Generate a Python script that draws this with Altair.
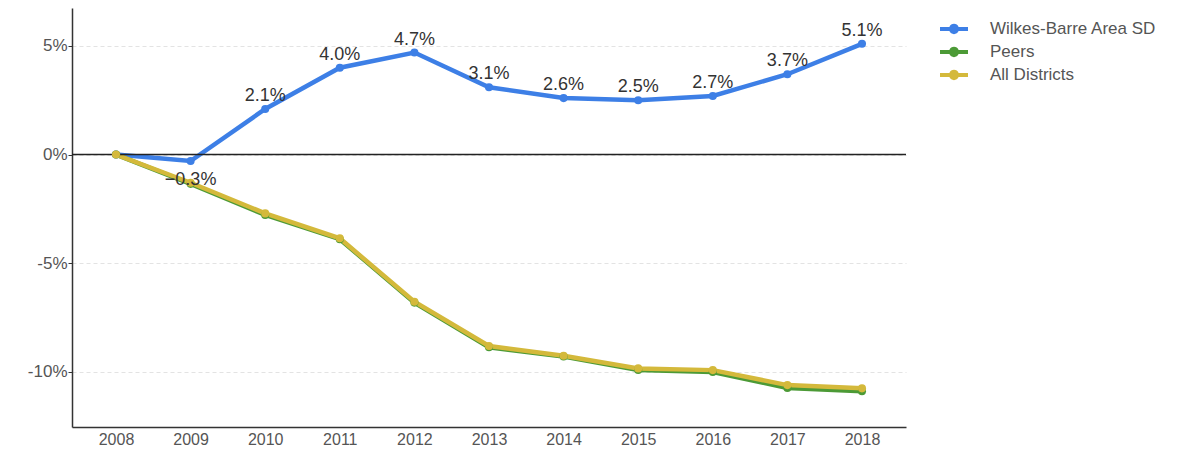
import altair as alt
import pandas as pd

years = ["2008", "2009", "2010", "2011", "2012", "2013", "2014", "2015", "2016", "2017", "2018"]
wilkes = [0.0, -0.3, 2.1, 4.0, 4.7, 3.1, 2.6, 2.5, 2.7, 3.7, 5.1]
peers = [0.0, -1.35, -2.78, -3.9, -6.82, -8.88, -9.3, -9.92, -10.02, -10.75, -10.9]
all_districts = [0.0, -1.3, -2.71, -3.86, -6.78, -8.82, -9.27, -9.85, -9.93, -10.62, -10.77]
series_names = ["Wilkes-Barre Area SD", "Peers", "All Districts"]
series_colors = ["#3d7fe6", "#4c9a36", "#d4b93b"]
y_ticks = [-10, -5, 0, 5]

rows = []
for name, vals in zip(series_names, [wilkes, peers, all_districts]):
    for yr, v in zip(years, vals):
        rows.append({"year": yr, "series": name, "value": v})
df = pd.DataFrame(rows)
zero_df = pd.DataFrame({"v": [0]})

FONT = "Liberation Sans"

x_enc = alt.X(
    "year:O",
    sort=years,
    scale=alt.Scale(type="point", padding=0.59),
    axis=alt.Axis(
        title=None, labelAngle=0, labelFontSize=16, labelFont=FONT, labelColor="#555",
        ticks=False, labelPadding=4, domainColor="#333", domainWidth=1.5, grid=False,
    ),
)
y_enc = alt.Y(
    "value:Q",
    scale=alt.Scale(domain=[-12.55, 6.75], nice=False, zero=False),
    axis=alt.Axis(
        title=None, values=y_ticks, labelExpr="datum.value + '%'", labelFontSize=17,
        labelFont=FONT, labelColor="#555", tickSize=4, tickColor="#333", labelPadding=1,
        domainColor="#333", domainWidth=1.5, grid=True, gridColor="#e3e3e3",
        gridDash=[4, 3], gridWidth=1,
    ),
)

lines = []
for name, color in zip(series_names, series_colors):
    lines.append(
        alt.Chart(df)
        .transform_filter(alt.datum.series == name)
        .mark_line(color=color, strokeWidth=4.5)
        .encode(x=x_enc, y=y_enc)
    )

rule = alt.Chart(zero_df).mark_rule(color="#222", strokeWidth=1.5).encode(y="v:Q")

SYMBOL = ("M-1,-0.15L-0.33,-0.15A0.36,0.36 0 0,1 0.33,-0.15L1,-0.15L1,0.15"
          "L0.33,0.15A0.36,0.36 0 0,1 -0.33,0.15L-1,0.15Z")

points = alt.Chart(df).mark_circle(size=65, opacity=1).encode(
    x=x_enc,
    y=y_enc,
    color=alt.Color(
        "series:N",
        sort=series_names,
        scale=alt.Scale(domain=series_names, range=series_colors),
        legend=alt.Legend(
            title=None, orient="none", legendX=868, legendY=7, symbolType=SYMBOL,
            symbolSize=784, symbolStrokeWidth=0, symbolOpacity=1, labelFontSize=17,
            labelFont=FONT, labelColor="#555", labelOffset=22, rowPadding=1, padding=0,
            labelLimit=300,
        ),
    ),
)

label_base = (
    alt.Chart(df)
    .transform_filter((alt.datum.series == series_names[0]) & (alt.datum.year != years[0]))
    .transform_calculate(label="format(datum.value, '.1f') + '%'")
)
labels_pos = label_base.transform_filter(alt.datum.value >= 0).mark_text(
    fontSize=18, font=FONT, color="#333", baseline="bottom", dy=-4
).encode(x=x_enc, y=y_enc, text="label:N")
labels_neg = label_base.transform_filter(alt.datum.value < 0).mark_text(
    fontSize=18, font=FONT, color="#333", baseline="top", dy=10
).encode(x=x_enc, y=y_enc, text="label:N")

chart = (
    alt.layer(*lines, rule, points, labels_pos, labels_neg)
    .properties(
        width=834,
        height=419,
        autosize=alt.AutoSizeParams(type="none"),
        padding={"left": 64, "top": 0, "right": 277, "bottom": 22},
    )
    .configure_view(stroke=None)
)

chart.save("out.html", embed_options={"renderer": "svg", "actions": False})
